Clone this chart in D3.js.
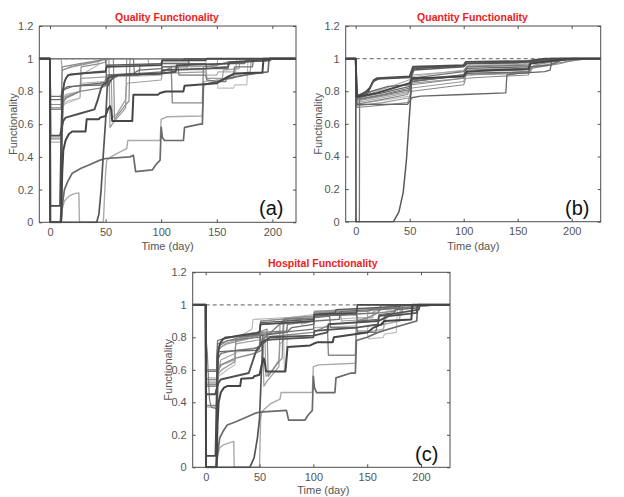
<!DOCTYPE html>
<html><head><meta charset="utf-8">
<script src="https://cdn.jsdelivr.net/npm/d3@7"></script>
<style>body{margin:0;background:#fff} svg{display:block} text{font-family:"Liberation Sans",Arial,Helvetica,sans-serif}</style>
</head><body><svg id="chart" width="624" height="497"></svg>
<script>
// ---------------- DATA ----------------
const xTicks = [0, 50, 100, 150, 200];
const yTicks = [0, 0.2, 0.4, 0.6, 0.8, 1, 1.2];
const panelTitles = ["Quality Functionality", "Quantity Functionality", "Hospital Functionality"];
const panelTags = ["(a)", "(b)", "(c)"];
const xLabel = "Time (day)";
const yLabel = "Functionality";

const qualitySeries = [
  [[-10,1],[0,1],[0.3,0],[10,0],[11,0.3],[12,0.44],[14,0.5],[17,0.54],[20,0.555],[32,0.555],[33,0.63],[44,0.63],[45,0.64],[50,0.65],[52,0.69],[54,0.71],[55,0.69],[56,0.62],[74,0.62],[75,0.78],[97,0.78],[99,0.79],[104,0.8],[120,0.8],[121,0.835],[150,0.85],[156,0.875],[163,0.9],[166,0.91],[191,0.915],[192,1],[225,1]],
  [[-10,1],[0,1],[0.4,0.53],[9,0.53],[10,0.56],[12,0.62],[14,0.64],[27,0.665],[40,0.69],[43,0.75],[46,0.82],[48,0.845],[51,0.85],[52,0.88],[55,0.89],[60,0.9],[100,0.91],[113,0.92],[114,0.96],[160,0.97],[170,0.98],[196,0.99],[197,1],[225,1]],
  [[-10,1],[0,1],[0.2,0],[42,0],[44,0.05],[46,0.2],[48,0.42],[50,0.62],[51.5,0.83],[54,0.86],[57,0.89],[62,0.9],[100,0.91],[101,0.93],[140,0.94],[160,0.95],[161,0.98],[198,0.99],[199,1],[225,1]],
  [[-10,1],[0,1],[0.2,0],[10,0],[11,0.1],[13,0.2],[16,0.25],[20,0.3],[28,0.33],[35,0.35],[45,0.38],[50,0.39],[72,0.4],[75,0.41],[77,0.31],[92,0.32],[95,0.35],[99,0.38],[100,0.58],[101,0.52],[103,0.5],[120,0.5],[121,0.58],[135,0.6],[137,0.6],[138,0.84],[150,0.86],[160,0.88],[175,0.9],[196,0.92],[197,1],[225,1]],
  [[-10,1],[0,1],[0.2,0],[10,0],[11,0.08],[13,0.13],[17,0.16],[22,0.175],[26,0.18],[26.5,0],[48,0],[50,0.3],[51,0.38],[55,0.4],[60,0.42],[69,0.45],[70,0.5],[99,0.5],[100,0.63],[105,0.645],[137,0.65],[138,0.86],[165,0.88],[166,0.9],[180,0.92],[181,1],[225,1]],
  [[-10,1],[0,1],[0.3,0.1],[9,0.1],[10,0.5],[11,0.78],[13,0.86],[16,0.9],[30,0.91],[50,0.92],[51,0.95],[100,0.96],[101,0.99],[140,0.99],[141,1],[225,1]],
  [[-10,1],[0,1],[0.5,0.77],[10,0.77],[11,0.8],[14,0.815],[20,0.83],[30,0.84],[45,0.85],[52,0.86],[53,0.9],[70,0.9],[100,0.91],[101,0.95],[124,0.95],[125,1],[225,1]],
  [[-10,1],[0,1],[0.5,0.72],[10,0.72],[11,0.74],[15,0.76],[27,0.8],[28,0.95],[45,0.97],[50,0.98],[51,1],[225,1]],
  [[-10,1],[0,1],[0.5,0.7],[10,0.7],[11,0.93],[20,0.95],[45,0.985],[46,1],[53,1],[54,0.58],[57,0.61],[68,0.7],[69,1],[225,1]],
  [[-10,1],[0,1],[0.5,0.69],[10,0.69],[11,0.95],[27,0.97],[45,0.99],[57,1],[58,0.63],[68,0.72],[71,0.74],[72,1],[225,1]],
  [[-10,1],[0,1],[0.5,0.49],[10,0.49],[11,0.75],[14,0.78],[27,0.8],[28,0.85],[49,0.86],[50,0.88],[60,0.89],[100,0.9],[101,0.93],[140,0.935],[141,0.9],[150,0.9],[151,0.92],[167,0.92],[168,1],[225,1]],
  [[-10,1],[0,1],[0.5,0.51],[10,0.51],[11,0.72],[14,0.76],[27,0.8],[45,0.82],[52,0.84],[53,0.9],[100,0.91],[109,0.95],[110,0.73],[137,0.73],[138,0.95],[150,0.96],[160,0.98],[176,0.98],[177,1],[225,1]],
  [[-10,1],[0,1],[0.3,0],[10,0],[11,0.6],[12,0.82],[14,0.88],[18,0.905],[50,0.925],[51,0.96],[100,0.97],[101,0.99],[120,0.99],[121,1],[225,1]],
  [[-10,1],[10,1],[11,0.93],[18,0.95],[45,0.99],[50,1],[88,1],[89,0.96],[100,0.965],[101,0.98],[125,0.98],[126,0.95],[150,0.955],[151,1],[225,1]],
  [[-10,1],[50,1],[51,0.86],[55,0.87],[62,0.9],[80,0.91],[100,0.92],[101,0.95],[115,0.955],[116,0.9],[140,0.9],[141,0.87],[150,0.86],[158,0.86],[159,0.89],[165,0.9],[166,0.95],[182,0.95],[183,1],[225,1]],
  [[-10,1],[0,1],[0.5,0.7],[10,0.7],[12,0.72],[20,0.74],[27,0.76],[28,0.84],[50,0.84],[51,1],[140,1],[141,0.88],[150,0.88],[151,0.82],[165,0.82],[166,0.84],[177,0.84],[178,1],[225,1]],
  [[-10,1],[0,1],[0.5,0.75],[10,0.75],[11,0.81],[16,0.83],[30,0.835],[50,0.84],[51,0.9],[75,0.91],[80,0.93],[100,0.94],[101,0.97],[140,0.97],[141,0.94],[160,0.94],[161,0.97],[175,0.97],[176,0.99],[196,0.99],[197,1],[225,1]],
  [[-10,1],[0,1],[0.5,0.52],[10,0.52],[11,0.7],[15,0.74],[27,0.76],[28,0.9],[35,0.93],[43,0.96],[44,1],[225,1]],
  [[-10,1],[75,1],[76,0.9],[80,0.9],[81,0.96],[100,0.97],[101,1],[225,1]],
  [[-10,1],[0,1],[0.3,0],[9,0],[10,0.1],[11,0.5],[12,0.72],[14,0.77],[27,0.8],[28,0.88],[55,0.89],[56,0.64],[60,0.66],[68,0.75],[69,0.85],[100,0.87],[101,0.91],[140,0.92],[141,0.88],[155,0.88],[156,0.93],[170,0.94],[171,1],[225,1]]
];

const quantitySeries = [
  [[-10,1],[0,1],[1,0.77],[5,0.78],[10,0.8],[13,0.82],[17,0.87],[20,0.88],[50,0.89],[52,0.93],[53,0.95],[70,0.953],[100,0.96],[102,0.98],[160,0.985],[175,1],[230,1]],
  [[-10,1],[0,1],[1,0.77],[12,0.8],[16,0.86],[21,0.875],[50,0.885],[52,0.92],[54,0.94],[100,0.955],[103,0.97],[150,0.975],[170,0.99],[190,1],[230,1]],
  [[-10,1],[0,1],[1,0.765],[20,0.79],[35,0.82],[50,0.85],[52,0.88],[80,0.885],[100,0.89],[103,0.92],[130,0.93],[160,0.935],[162,0.97],[200,1],[230,1]],
  [[-10,1],[0,1],[1,0.76],[25,0.79],[50,0.83],[52,0.87],[100,0.9],[103,0.94],[160,0.95],[162,0.98],[210,1],[230,1]],
  [[-10,1],[0,1],[1,0.75],[25,0.78],[50,0.82],[52,0.86],[100,0.895],[102,0.93],[160,0.94],[161,0.97],[205,1],[230,1]],
  [[-10,1],[0,1],[1,0.74],[25,0.77],[50,0.8],[52,0.85],[100,0.88],[102,0.92],[155,0.93],[165,0.98],[200,1],[230,1]],
  [[-10,1],[0,1],[1,0.73],[25,0.76],[48,0.79],[52,0.86],[100,0.9],[103,0.95],[150,0.96],[175,1],[230,1]],
  [[-10,1],[0,1],[1,0.72],[25,0.75],[48,0.78],[52,0.84],[100,0.88],[103,0.9],[160,0.91],[163,0.95],[215,1],[230,1]],
  [[-10,1],[0,1],[1,0.72],[25,0.745],[50,0.77],[53,0.89],[100,0.93],[104,0.96],[160,0.97],[170,1],[230,1]],
  [[-10,1],[0,1],[1,0.71],[25,0.73],[50,0.76],[52,0.82],[100,0.86],[102,0.9],[162,0.92],[165,0.96],[200,1],[230,1]],
  [[-10,1],[0,1],[1,0.72],[48,0.72],[50,0.74],[52,0.76],[60,0.77],[100,0.78],[139,0.79],[140,0.9],[150,0.91],[175,0.92],[180,0.93],[182,1],[230,1]],
  [[-10,1],[0,1],[0.2,0],[35,0],[40,0.06],[44,0.18],[47,0.38],[49,0.58],[50.5,0.72],[52,0.9],[54,0.93],[100,0.95],[103,0.97],[160,0.98],[180,1],[230,1]],
  [[-10,1],[0,1],[0.3,0],[3.4,0],[3.6,0.75],[20,0.77],[50,0.81],[52,0.88],[100,0.92],[103,0.95],[160,0.96],[163,0.99],[200,1],[230,1]],
  [[-10,1],[0,1],[1,0.7],[25,0.715],[48,0.73],[52,0.8],[100,0.84],[102,0.88],[130,0.89],[160,0.9],[162,0.94],[190,0.97],[205,1],[230,1]],
  [[-10,1],[0,1],[1,0.75],[20,0.8],[50,0.87],[52,0.9],[100,0.925],[103,0.955],[160,0.965],[165,0.99],[185,1],[230,1]],
  [[-10,1],[0,1],[1,0.76],[15,0.8],[30,0.83],[50,0.84],[52,0.86],[75,0.88],[100,0.9],[103,0.91],[140,0.915],[160,0.92],[162,0.95],[180,0.96],[190,0.99],[215,1],[230,1]]
];

const hospitalSeries = [
  [[-12,1],[0,1],[0.3,0],[10,0],[11,0.27],[12,0.4],[14,0.46],[17,0.49],[20,0.5],[32,0.5],[33,0.545],[44,0.55],[45,0.56],[50,0.57],[52,0.63],[54,0.67],[55,0.64],[56,0.59],[74,0.59],[76,0.74],[97,0.75],[100,0.76],[104,0.77],[118,0.77],[119,0.8],[140,0.82],[150,0.83],[156,0.86],[163,0.88],[166,0.9],[191,0.91],[192,1],[230,1]],
  [[-12,1],[0,1],[0.4,0.45],[9,0.45],[10,0.48],[12,0.52],[14,0.54],[27,0.56],[40,0.58],[43,0.64],[46,0.7],[48,0.73],[51,0.75],[52,0.77],[55,0.78],[60,0.8],[100,0.81],[113,0.83],[114,0.88],[160,0.9],[170,0.93],[196,0.95],[197,1],[230,1]],
  [[-12,1],[0,1],[0.2,0],[41,0],[45,0.06],[48,0.18],[50,0.3],[51.5,0.55],[53,0.76],[56,0.78],[60,0.785],[100,0.8],[101,0.84],[140,0.86],[160,0.88],[161,0.93],[198,0.97],[199,1],[230,1]],
  [[-12,1],[0,1],[0.2,0],[10,0],[11,0.08],[13,0.18],[16,0.22],[20,0.26],[28,0.28],[35,0.3],[45,0.33],[50,0.34],[75,0.35],[77,0.29],[92,0.29],[95,0.32],[99,0.35],[100,0.56],[101,0.49],[103,0.46],[120,0.46],[121,0.55],[135,0.58],[139,0.58],[140,0.78],[150,0.8],[160,0.83],[175,0.86],[196,0.9],[197,1],[230,1]],
  [[-12,1],[0,1],[0.2,0],[10,0],[11,0.07],[13,0.12],[17,0.14],[22,0.15],[26,0.16],[26.5,0],[50,0],[51,0.3],[52,0.34],[55,0.36],[60,0.39],[69,0.42],[70,0.46],[99,0.46],[100,0.62],[105,0.63],[139,0.64],[140,0.82],[165,0.85],[166,0.88],[180,0.9],[181,1],[230,1]],
  [[-12,1],[0,1],[0.3,0.07],[9,0.07],[10,0.4],[11,0.68],[13,0.76],[16,0.79],[30,0.81],[50,0.83],[51,0.88],[100,0.9],[101,0.94],[140,0.95],[141,1],[230,1]],
  [[-12,1],[0,1],[0.5,0.6],[10,0.6],[11,0.66],[14,0.7],[20,0.71],[30,0.72],[45,0.73],[52,0.75],[53,0.82],[70,0.83],[100,0.85],[101,0.9],[124,0.91],[125,0.96],[180,0.98],[181,1],[230,1]],
  [[-12,1],[0,1],[0.5,0.54],[10,0.54],[11,0.57],[15,0.6],[27,0.65],[28,0.78],[45,0.81],[50,0.83],[51,0.9],[100,0.93],[101,0.96],[160,0.98],[165,1],[230,1]],
  [[-12,1],[0,1],[0.5,0.52],[10,0.52],[11,0.73],[20,0.76],[45,0.8],[53,0.82],[54,0.5],[57,0.53],[68,0.62],[69,0.88],[100,0.9],[101,0.93],[160,0.95],[161,0.98],[200,1],[230,1]],
  [[-12,1],[0,1],[0.5,0.51],[10,0.51],[11,0.76],[27,0.79],[45,0.82],[57,0.85],[58,0.56],[68,0.65],[71,0.67],[72,0.9],[100,0.92],[101,0.95],[150,0.96],[165,0.985],[180,1],[230,1]],
  [[-12,1],[0,1],[0.5,0.37],[10,0.37],[11,0.6],[14,0.63],[27,0.66],[28,0.71],[49,0.72],[50,0.77],[60,0.79],[100,0.8],[101,0.86],[140,0.87],[141,0.84],[150,0.84],[151,0.87],[167,0.88],[168,0.96],[190,0.98],[200,1],[230,1]],
  [[-12,1],[0,1],[0.5,0.38],[10,0.38],[11,0.58],[14,0.63],[27,0.67],[45,0.7],[52,0.72],[53,0.8],[100,0.83],[113,0.87],[114,0.69],[139,0.69],[140,0.9],[150,0.92],[160,0.95],[176,0.96],[177,1],[230,1]],
  [[-12,1],[0,1],[0.3,0],[10,0],[11,0.5],[12,0.72],[14,0.77],[18,0.8],[50,0.82],[51,0.89],[100,0.91],[101,0.94],[120,0.95],[121,0.97],[180,0.99],[181,1],[230,1]],
  [[-12,1],[0,1],[0.5,0.55],[10,0.55],[11,0.72],[18,0.76],[45,0.82],[50,0.84],[51,0.9],[88,0.92],[89,0.88],[100,0.9],[101,0.95],[125,0.96],[126,0.9],[150,0.91],[151,0.97],[190,0.99],[210,1],[230,1]],
  [[-12,1],[0,1],[0.5,0.59],[10,0.59],[11,0.78],[20,0.8],[50,0.81],[51,0.76],[55,0.8],[62,0.84],[72,0.9],[73,0.91],[100,0.92],[115,0.93],[116,0.86],[140,0.86],[141,0.83],[158,0.83],[159,0.87],[165,0.88],[166,0.93],[182,0.94],[183,1],[230,1]],
  [[-12,1],[0,1],[0.5,0.53],[10,0.53],[12,0.56],[20,0.6],[27,0.63],[28,0.72],[50,0.74],[51,0.88],[140,0.92],[141,0.84],[150,0.84],[151,0.79],[165,0.8],[166,0.82],[177,0.83],[178,0.97],[200,0.99],[215,1],[230,1]],
  [[-12,1],[0,1],[0.5,0.5],[10,0.5],[11,0.71],[30,0.72],[48,0.72],[50,0.73],[51,0.81],[75,0.83],[80,0.86],[100,0.88],[101,0.93],[140,0.94],[141,0.9],[160,0.91],[161,0.94],[175,0.95],[176,0.97],[196,0.98],[197,1],[230,1]],
  [[-12,1],[0,1],[0.5,0.45],[10,0.45],[11,0.6],[15,0.63],[27,0.66],[28,0.8],[35,0.82],[43,0.85],[44,0.91],[72,0.92],[73,0.6],[75,0.62],[76,0.92],[100,0.94],[160,0.97],[190,1],[230,1]],
  [[-12,1],[0,1],[0.5,0.78],[1.5,0.7],[2.5,0.55],[3.5,0.42],[5,0.37],[10,0.36],[11,0.74],[20,0.78],[50,0.8],[52,0.83],[75,0.84],[76,0.88],[100,0.9],[101,0.93],[160,0.95],[162,0.97],[200,0.99],[215,1],[230,1]],
  [[-12,1],[0,1],[0.3,0],[9,0],[10,0.08],[11,0.4],[12,0.6],[14,0.66],[27,0.7],[28,0.76],[55,0.79],[56,0.56],[60,0.58],[68,0.66],[69,0.76],[72,0.78],[73,0.92],[100,0.93],[101,0.96],[140,0.96],[141,0.92],[155,0.92],[156,0.96],[170,0.98],[171,1],[230,1]]
];

// ---------------- STYLES ----------------
const qualityShade = ["#454545","#505050","#555555","#6a6a6a","#aaaaaa","#4a4a4a","#707070","#909090","#999999","#8a8a8a","#b0b0b0","#8a8a8a","#5a5a5a","#9c9c9c","#777777","#c0c0c0","#6a6a6a","#b5b5b5","#7a7a7a","#a0a0a0"];
const qualityWidth = [2,1.9,1.7,1.7,1.4,1.7,1.3,1.2,1.2,1.2,1.2,1.4,1.4,1.1,1.3,1.2,1.3,1.1,1.2,1.2];
const quantityShade = ["#4d4d4d","#555555","#444444","#666666","#777777","#999999","#aaaaaa","#888888","#bbbbbb","#999999","#666666","#5a5a5a","#777777","#8a8a8a","#a5a5a5","#6a6a6a"];
const quantityWidth = [1.9,1.7,1.9,1.4,1.2,1.1,1.1,1.1,1.1,1.1,1.3,1.5,1.3,1.1,1.1,1.4];
const hospitalShade = qualityShade;
const hospitalWidth = qualityWidth;

const layout = [
  {left:39.3, right:296, top:26, bottom:222.3, dom:[-9.6,221.2], titleX:167, titleY:21, tagX:259, tagY:215, xlabX:167.5, xlabY:249.5, ylabX:12.5},
  {left:345.7, right:600.7, top:26, bottom:221.7, dom:[-9.26,226.85], titleX:472.5, titleY:21, tagX:565, tagY:215, xlabX:473.3, xlabY:249.5, ylabX:318.3},
  {left:192.7, right:450, top:272.3, bottom:467.3, dom:[-12.08,226.9], titleX:322.8, titleY:266.5, tagX:415, tagY:460.5, xlabX:323.3, xlabY:494, ylabX:167.5}
];
const allSeries = [qualitySeries, quantitySeries, hospitalSeries];
const allShade = [qualityShade, quantityShade, hospitalShade];
const allWidth = [qualityWidth, quantityWidth, hospitalWidth];

const svg = d3.select("#chart");
const defs = svg.append("defs");
const axisColor = "#4d4d4d";

layout.forEach((L, p) => {
  const x = d3.scaleLinear().domain(L.dom).range([L.left, L.right]);
  const y = d3.scaleLinear().domain([0, 1.2]).range([L.bottom, L.top]);
  const g = svg.append("g");
  const clipId = "clip" + p;
  defs.append("clipPath").attr("id", clipId).append("rect")
    .attr("x", L.left).attr("y", L.top - 1).attr("width", L.right - L.left).attr("height", L.bottom - L.top + 2);

  g.append("line").attr("x1", x(0)).attr("x2", L.right).attr("y1", y(1)).attr("y2", y(1))
    .attr("stroke", "#808080").attr("stroke-width", 1.3).attr("stroke-dasharray", "4,3");

  const line = d3.line().x(d => x(d[0])).y(d => y(d[1]));
  const ser = allSeries[p], shade = allShade[p], wid = allWidth[p];
  const order = d3.range(ser.length).sort((a, b) => d3.hsl(shade[b]).l - d3.hsl(shade[a]).l);
  const lg = g.append("g").attr("clip-path", `url(#${clipId})`);
  order.forEach(i => {
    lg.append("path").attr("d", line(ser[i])).attr("fill", "none")
      .attr("stroke", shade[i]).attr("stroke-width", wid[i])
      .attr("stroke-linejoin", "round").attr("stroke-linecap", "butt");
  });

  const styleAxis = sel => {
    sel.select(".domain").remove();
    sel.selectAll(".tick line").attr("stroke", axisColor);
    sel.selectAll(".tick text").attr("fill", "#555").attr("font-size", 11)
      .attr("font-family", '"Liberation Sans", Arial, sans-serif');
  };
  g.append("g").attr("transform", `translate(0,${L.bottom})`)
    .call(d3.axisBottom(x).tickValues(xTicks).tickSize(-3).tickPadding(6).tickFormat(d => String(d))).call(styleAxis);
  g.append("g").attr("transform", `translate(0,${L.top})`)
    .call(d3.axisTop(x).tickValues(xTicks).tickSize(-3).tickFormat("")).call(styleAxis);
  g.append("g").attr("transform", `translate(${L.left},0)`)
    .call(d3.axisLeft(y).tickValues(yTicks).tickSize(-3).tickPadding(6).tickFormat(d => String(d))).call(styleAxis);
  g.append("g").attr("transform", `translate(${L.right},0)`)
    .call(d3.axisRight(y).tickValues(yTicks).tickSize(-3).tickFormat("")).call(styleAxis);

  g.append("rect").attr("x", L.left).attr("y", L.top).attr("width", L.right - L.left).attr("height", L.bottom - L.top)
    .attr("fill", "none").attr("stroke", axisColor).attr("stroke-width", 1);

  g.append("text").attr("x", L.titleX).attr("y", L.titleY).attr("text-anchor", "middle")
    .attr("font-size", 10.5).attr("font-weight", "bold").attr("fill", "#ee1c1c").text(panelTitles[p]);
  g.append("text").attr("x", L.xlabX).attr("y", L.xlabY).attr("text-anchor", "middle")
    .attr("font-size", 11).attr("fill", "#555").text(xLabel);
  g.append("text").attr("transform", `translate(${L.ylabX},${(L.top + L.bottom) / 2}) rotate(-90)`)
    .attr("text-anchor", "middle").attr("dominant-baseline", "central")
    .attr("font-size", 11).attr("fill", "#555").text(yLabel);
  g.append("text").attr("x", L.tagX).attr("y", L.tagY).attr("font-size", 20)
    .attr("fill", "#111").text(panelTags[p]);
});
</script></body></html>
